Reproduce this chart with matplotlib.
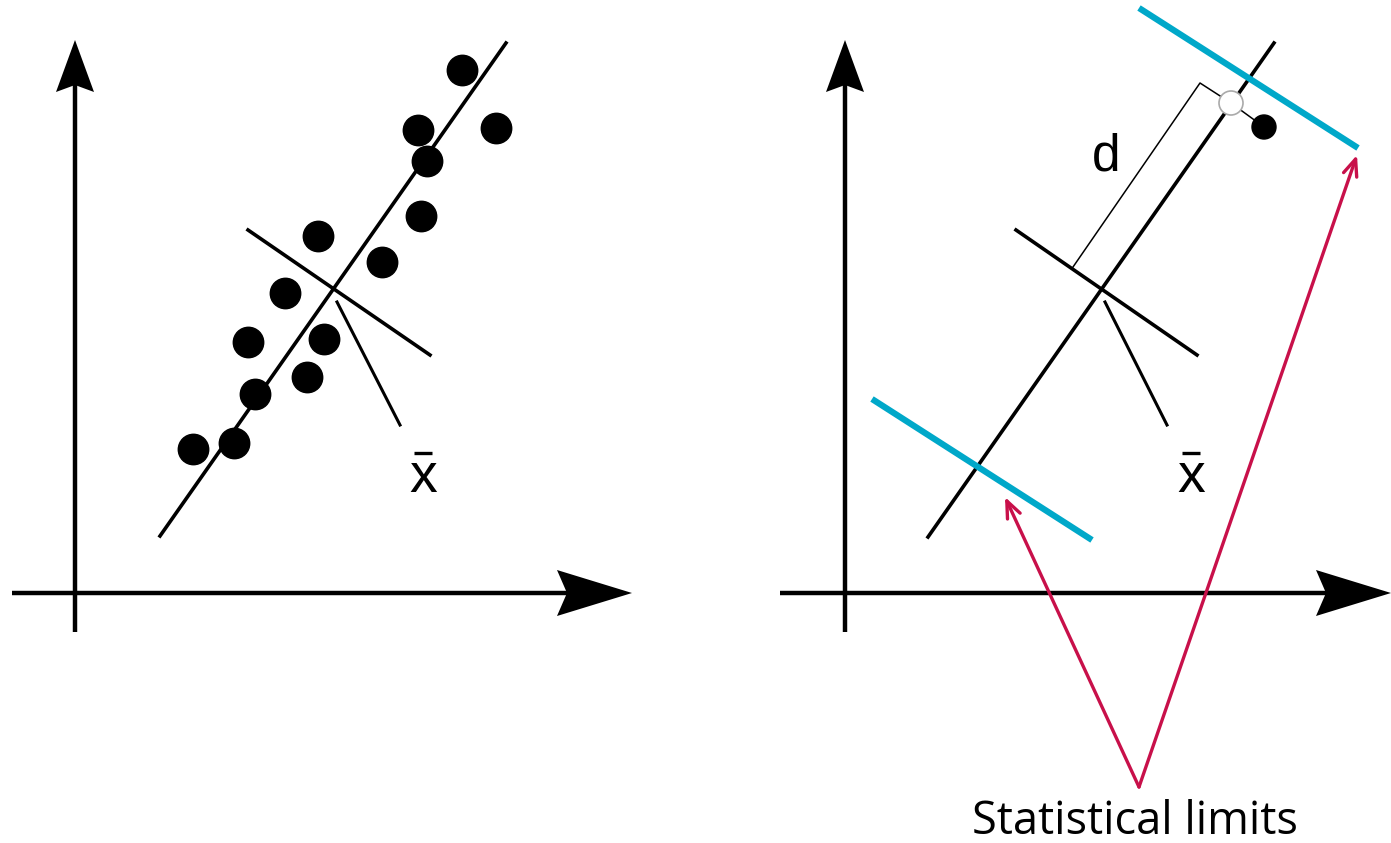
import numpy as np
import matplotlib.pyplot as plt
from matplotlib.patches import Polygon, Circle

# pixel-space diagram (y grows downward)
W, H = 1391, 843

# left panel
axis_origin_l = (75, 593)
xaxis_l = (12, 632)
yaxis_l = (632, 40)
fit_l = [(160, 536), (506, 43)]
perp_l = [(248, 230), (430, 355)]
ptr_l = [(337, 302), (400, 425)]
xbar_l = (423, 478)
pts_x = [193, 234, 255, 248, 307, 324, 285, 318, 382, 421, 427, 418, 462, 496]
pts_y = [449, 443, 394, 342, 377, 339, 293, 236, 262, 216, 161, 130, 70, 128]

# right panel
axis_origin_r = (845, 593)
xaxis_r = (780, 1391)
yaxis_r = (632, 40)
fit_r = [(928, 537), (1274, 43)]
perp_r = [(1016, 230), (1197, 355)]
ptr_r = [(1105, 302), (1167, 425)]
xbar_r = (1191, 478)
dist_path = [(1073, 267), (1200, 83), (1231, 103)]
proj_pt = (1231, 103)
obs_pt = (1264, 127)
limit_top = [(1139, 8), (1358, 148)]
limit_bot = [(872, 399), (1092, 540)]
callout_src = (1139, 787)
callout_dst = [(1005, 497), (1357, 155)]
callout_text = "Statistical limits"

blue = "#00A8C9"
red = "#C8104A"

fig = plt.figure(figsize=(W / 100, H / 100), dpi=100)
ax = fig.add_axes([0, 0, 1, 1])
ax.set_xlim(0, W)
ax.set_ylim(H, 0)
ax.axis("off")


def head(ax, tip, direction, length=75, half=23, notch=10):
    d = np.array(direction, float)
    d /= np.hypot(*d)
    n = np.array([-d[1], d[0]])
    t = np.array(tip, float)
    base = t - d * length
    poly = [t, base + n * half, base + d * notch, base - n * half]
    ax.add_patch(Polygon(poly, closed=True, color="k", lw=0))


def axes_pair(ax, origin, xr, yr):
    x0, y0 = origin
    ax.plot([xr[0], xr[1] - 40], [y0, y0], color="k", lw=3.2, solid_capstyle="butt")
    ax.plot([x0, x0], [yr[0], yr[1] + 40], color="k", lw=3.2, solid_capstyle="butt")
    head(ax, (xr[1], y0), (1, 0))
    head(ax, (x0, yr[1]), (0, -1), length=52, half=19, notch=7)


def seg(ax, pts, **kw):
    xs, ys = zip(*pts)
    ax.plot(xs, ys, **kw)


def xbar(ax, pos):
    x, y = pos
    ax.text(x, y, "x", fontsize=40, family="Liberation Sans", ha="center", va="center")
    ax.plot([x - 9, x + 9], [y - 25, y - 25], color="k", lw=2.4, solid_capstyle="butt")


# left
axes_pair(ax, axis_origin_l, xaxis_l, yaxis_l)
seg(ax, fit_l, color="k", lw=2.6)
seg(ax, perp_l, color="k", lw=2.6)
seg(ax, ptr_l, color="k", lw=2.2)
ax.scatter(pts_x, pts_y, s=480, color="k", zorder=3)
xbar(ax, xbar_l)

# right
axes_pair(ax, axis_origin_r, xaxis_r, yaxis_r)
seg(ax, fit_r, color="k", lw=2.6)
seg(ax, perp_r, color="k", lw=2.6)
seg(ax, ptr_r, color="k", lw=2.2)
seg(ax, dist_path, color="k", lw=1.1)
seg(ax, [proj_pt, obs_pt], color="k", lw=1.1)
ax.add_patch(Circle(proj_pt, 12, facecolor="white", edgecolor="#aaaaaa", lw=1.2, zorder=4))
ax.add_patch(Circle(obs_pt, 12, color="k", zorder=4))
ax.text(1106, 157, "d", fontsize=37, family="Liberation Sans", ha="center", va="center")
xbar(ax, xbar_r)
seg(ax, limit_top, color=blue, lw=4.5, solid_capstyle="butt")
seg(ax, limit_bot, color=blue, lw=4.5, solid_capstyle="butt")

for dst in callout_dst:
    ax.annotate("", xy=dst, xytext=callout_src,
                arrowprops=dict(arrowstyle="->,head_length=1.2,head_width=0.5",
                                color=red, lw=2.4, shrinkA=0, shrinkB=0))
ax.text(1135, 822, callout_text, fontsize=32.5, family="Open Sans", ha="center", va="center")

fig.savefig("out.png", dpi=100)
